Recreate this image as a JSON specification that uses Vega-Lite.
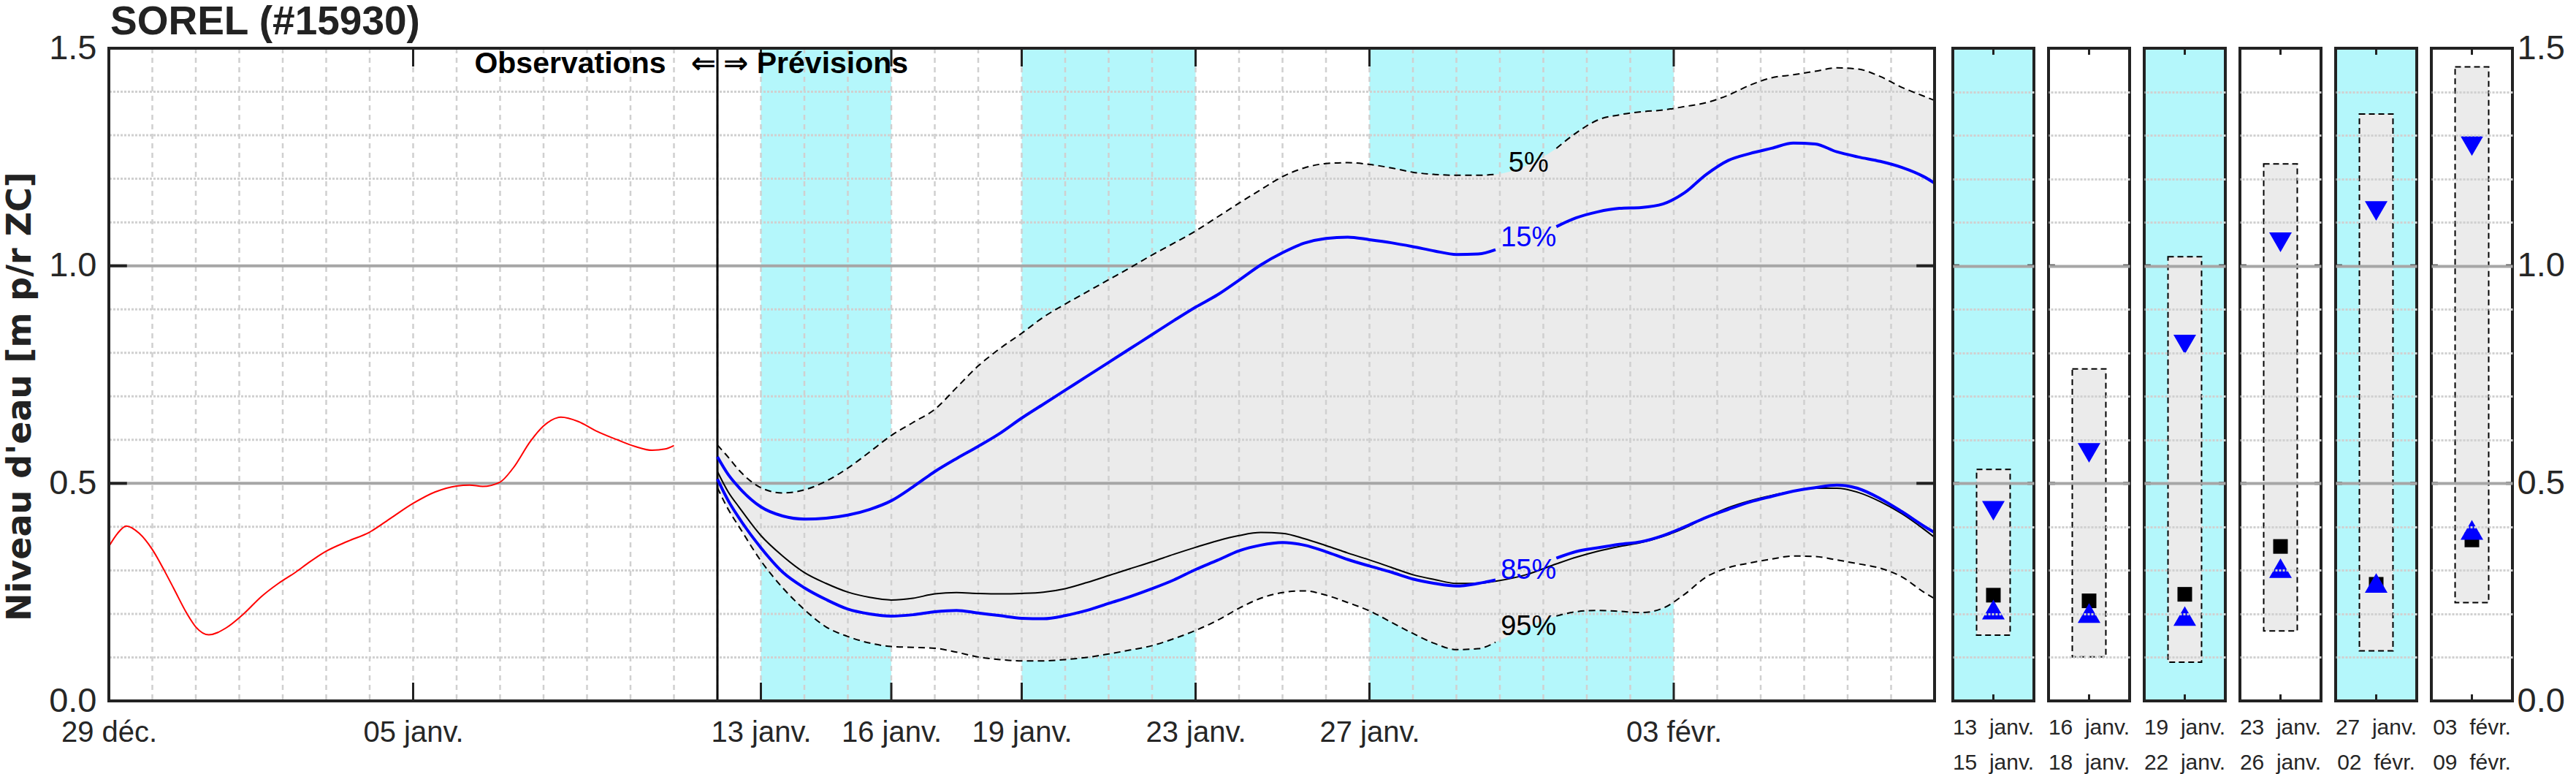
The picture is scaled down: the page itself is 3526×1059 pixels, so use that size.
{
"$schema": "https://vega.github.io/schema/vega-lite/v6.json",
"background": "white",
"padding": {"left": 4, "top": 2, "right": 6, "bottom": 4},
"title": {"text": "SOREL (#15930)", "anchor": "start", "frame": "group", "font": "Liberation Sans", "fontSize": 55, "fontWeight": "bold", "color": "#222222", "dx": 2, "offset": -16.5},
"config": {"view": {"stroke": null}, "font": "Liberation Sans"},
"datasets": {
"obs": [
{"t":"2024-12-29T00:00","v":0.355},{"t":"2024-12-29T04:48","v":0.385},{"t":"2024-12-29T09:36","v":0.402},{"t":"2024-12-29T16:48","v":0.385},
{"t":"2024-12-30T00:00","v":0.348},{"t":"2024-12-30T07:12","v":0.295},{"t":"2024-12-30T12:00","v":0.257},{"t":"2024-12-30T19:12","v":0.2},
{"t":"2024-12-31T00:00","v":0.17},{"t":"2024-12-31T07:12","v":0.152},{"t":"2024-12-31T16:48","v":0.168},{"t":"2025-01-01T02:24","v":0.2},
{"t":"2025-01-01T12:00","v":0.239},{"t":"2025-01-01T21:36","v":0.27},{"t":"2025-01-02T07:12","v":0.296},{"t":"2025-01-02T14:24","v":0.318},
{"t":"2025-01-03T00:00","v":0.344},{"t":"2025-01-03T12:00","v":0.367},{"t":"2025-01-04T00:00","v":0.388},{"t":"2025-01-04T12:00","v":0.421},
{"t":"2025-01-05T00:00","v":0.454},{"t":"2025-01-05T12:00","v":0.48},{"t":"2025-01-06T00:00","v":0.494},{"t":"2025-01-06T07:12","v":0.496},
{"t":"2025-01-06T14:24","v":0.493},{"t":"2025-01-07T00:00","v":0.503},{"t":"2025-01-07T07:12","v":0.535},{"t":"2025-01-07T16:48","v":0.597},
{"t":"2025-01-08T00:00","v":0.632},{"t":"2025-01-08T09:36","v":0.652},{"t":"2025-01-08T19:12","v":0.642},{"t":"2025-01-09T04:48","v":0.621},
{"t":"2025-01-09T16:48","v":0.6},{"t":"2025-01-10T02:24","v":0.585},{"t":"2025-01-10T12:00","v":0.576},{"t":"2025-01-10T19:12","v":0.579},
{"t":"2025-01-11T00:00","v":0.587}
],
"fc": [
{"t":"2025-01-12T00:00","p5":0.588,"p15":0.561,"p50":0.527,"p85":0.51,"p95":0.49,"seg":"a"},
{"t":"2025-01-12T06:00","p5":0.56,"p15":0.52,"p50":0.48,"p85":0.46,"p95":0.44,"seg":"a"},
{"t":"2025-01-12T12:00","p5":0.53,"p15":0.49,"p50":0.445,"p85":0.42,"p95":0.4,"seg":"a"},
{"t":"2025-01-13T00:00","p5":0.49,"p15":0.446,"p50":0.38,"p85":0.352,"p95":0.322,"seg":"a"},
{"t":"2025-01-13T12:00","p5":0.478,"p15":0.425,"p50":0.333,"p85":0.296,"p95":0.26,"seg":"a"},
{"t":"2025-01-14T00:00","p5":0.485,"p15":0.418,"p50":0.295,"p85":0.26,"p95":0.21,"seg":"a"},
{"t":"2025-01-14T12:00","p5":0.505,"p15":0.42,"p50":0.27,"p85":0.233,"p95":0.17,"seg":"a"},
{"t":"2025-01-15T00:00","p5":0.535,"p15":0.427,"p50":0.25,"p85":0.211,"p95":0.148,"seg":"a"},
{"t":"2025-01-15T12:00","p5":0.572,"p15":0.44,"p50":0.238,"p85":0.2,"p95":0.133,"seg":"a"},
{"t":"2025-01-16T00:00","p5":0.61,"p15":0.46,"p50":0.232,"p85":0.195,"p95":0.125,"seg":"a"},
{"t":"2025-01-16T12:00","p5":0.64,"p15":0.492,"p50":0.236,"p85":0.198,"p95":0.123,"seg":"a"},
{"t":"2025-01-17T00:00","p5":0.67,"p15":0.527,"p50":0.246,"p85":0.205,"p95":0.121,"seg":"a"},
{"t":"2025-01-17T12:00","p5":0.72,"p15":0.557,"p50":0.249,"p85":0.208,"p95":0.112,"seg":"a"},
{"t":"2025-01-18T00:00","p5":0.77,"p15":0.585,"p50":0.247,"p85":0.202,"p95":0.101,"seg":"a"},
{"t":"2025-01-18T12:00","p5":0.81,"p15":0.615,"p50":0.246,"p85":0.196,"p95":0.095,"seg":"a"},
{"t":"2025-01-19T00:00","p5":0.845,"p15":0.65,"p50":0.247,"p85":0.19,"p95":0.092,"seg":"a"},
{"t":"2025-01-19T12:00","p5":0.882,"p15":0.682,"p50":0.25,"p85":0.189,"p95":0.092,"seg":"a"},
{"t":"2025-01-20T00:00","p5":0.912,"p15":0.714,"p50":0.258,"p85":0.196,"p95":0.095,"seg":"a"},
{"t":"2025-01-20T12:00","p5":0.94,"p15":0.746,"p50":0.272,"p85":0.208,"p95":0.1,"seg":"a"},
{"t":"2025-01-21T00:00","p5":0.968,"p15":0.778,"p50":0.288,"p85":0.224,"p95":0.108,"seg":"a"},
{"t":"2025-01-21T12:00","p5":0.996,"p15":0.81,"p50":0.304,"p85":0.24,"p95":0.117,"seg":"a"},
{"t":"2025-01-22T00:00","p5":1.025,"p15":0.842,"p50":0.32,"p85":0.258,"p95":0.127,"seg":"a"},
{"t":"2025-01-22T12:00","p5":1.052,"p15":0.874,"p50":0.337,"p85":0.278,"p95":0.143,"seg":"a"},
{"t":"2025-01-23T00:00","p5":1.08,"p15":0.905,"p50":0.353,"p85":0.302,"p95":0.162,"seg":"a"},
{"t":"2025-01-23T12:00","p5":1.112,"p15":0.933,"p50":0.368,"p85":0.323,"p95":0.185,"seg":"a"},
{"t":"2025-01-24T00:00","p5":1.144,"p15":0.967,"p50":0.38,"p85":0.345,"p95":0.213,"seg":"a"},
{"t":"2025-01-24T12:00","p5":1.175,"p15":1.002,"p50":0.387,"p85":0.358,"p95":0.236,"seg":"a"},
{"t":"2025-01-25T00:00","p5":1.205,"p15":1.03,"p50":0.385,"p85":0.364,"p95":0.249,"seg":"a"},
{"t":"2025-01-25T12:00","p5":1.225,"p15":1.052,"p50":0.373,"p85":0.358,"p95":0.253,"seg":"a"},
{"t":"2025-01-26T00:00","p5":1.235,"p15":1.063,"p50":0.357,"p85":0.343,"p95":0.243,"seg":"a"},
{"t":"2025-01-26T12:00","p5":1.237,"p15":1.066,"p50":0.34,"p85":0.325,"p95":0.226,"seg":"a"},
{"t":"2025-01-27T00:00","p5":1.233,"p15":1.06,"p50":0.324,"p85":0.31,"p95":0.207,"seg":"a"},
{"t":"2025-01-27T12:00","p5":1.225,"p15":1.053,"p50":0.307,"p85":0.296,"p95":0.181,"seg":"a"},
{"t":"2025-01-28T00:00","p5":1.215,"p15":1.044,"p50":0.29,"p85":0.28,"p95":0.155,"seg":"a"},
{"t":"2025-01-28T12:00","p5":1.21,"p15":1.034,"p50":0.279,"p85":0.27,"p95":0.132,"seg":"a"},
{"t":"2025-01-29T00:00","p5":1.208,"p15":1.026,"p50":0.27,"p85":0.264,"p95":0.118,"seg":"a"},
{"t":"2025-01-29T12:00","p5":1.208,"p15":1.027,"p50":0.27,"p85":0.27,"p95":0.12,"seg":"a"},
{"t":"2025-01-29T21:36","p5":1.21,"p15":1.037,"p50":0.275,"p85":0.278,"p95":0.135,"seg":"a"},
{"t":"2025-01-30T14:24","p5":1.23,"p15":1.065,"p50":0.29,"p85":0.3,"p95":0.168,"seg":"gap"},
{"t":"2025-01-31T07:12","p5":1.27,"p15":1.09,"p50":0.315,"p85":0.328,"p95":0.195,"seg":"b"},
{"t":"2025-01-31T18:00","p5":1.305,"p15":1.11,"p50":0.33,"p85":0.343,"p95":0.205,"seg":"b"},
{"t":"2025-02-01T06:00","p5":1.335,"p15":1.124,"p50":0.344,"p85":0.352,"p95":0.208,"seg":"b"},
{"t":"2025-02-01T18:00","p5":1.347,"p15":1.132,"p50":0.355,"p85":0.36,"p95":0.206,"seg":"b"},
{"t":"2025-02-02T06:00","p5":1.354,"p15":1.134,"p50":0.364,"p85":0.366,"p95":0.203,"seg":"b"},
{"t":"2025-02-02T18:00","p5":1.358,"p15":1.142,"p50":0.378,"p85":0.38,"p95":0.213,"seg":"b"},
{"t":"2025-02-03T06:00","p5":1.366,"p15":1.168,"p50":0.397,"p85":0.4,"p95":0.245,"seg":"b"},
{"t":"2025-02-03T18:00","p5":1.375,"p15":1.21,"p50":0.422,"p85":0.422,"p95":0.285,"seg":"b"},
{"t":"2025-02-04T06:00","p5":1.392,"p15":1.242,"p50":0.444,"p85":0.44,"p95":0.306,"seg":"b"},
{"t":"2025-02-04T18:00","p5":1.415,"p15":1.258,"p50":0.46,"p85":0.457,"p95":0.317,"seg":"b"},
{"t":"2025-02-05T06:00","p5":1.432,"p15":1.27,"p50":0.472,"p85":0.47,"p95":0.326,"seg":"b"},
{"t":"2025-02-05T18:00","p5":1.439,"p15":1.282,"p50":0.482,"p85":0.482,"p95":0.333,"seg":"b"},
{"t":"2025-02-06T06:00","p5":1.447,"p15":1.28,"p50":0.489,"p85":0.49,"p95":0.332,"seg":"b"},
{"t":"2025-02-06T18:00","p5":1.455,"p15":1.262,"p50":0.489,"p85":0.496,"p95":0.324,"seg":"b"},
{"t":"2025-02-07T06:00","p5":1.452,"p15":1.25,"p50":0.479,"p85":0.488,"p95":0.315,"seg":"b"},
{"t":"2025-02-07T18:00","p5":1.435,"p15":1.24,"p50":0.458,"p85":0.465,"p95":0.305,"seg":"b"},
{"t":"2025-02-08T06:00","p5":1.41,"p15":1.226,"p50":0.43,"p85":0.435,"p95":0.285,"seg":"b"},
{"t":"2025-02-08T18:00","p5":1.39,"p15":1.205,"p50":0.395,"p85":0.402,"p95":0.25,"seg":"b"},
{"t":"2025-02-09T00:00","p5":1.38,"p15":1.19,"p50":0.376,"p85":0.387,"p95":0.235,"seg":"b"}
],
"bands": [
{"start":"2025-01-13T00:00","end":"2025-01-16T00:00"},
{"start":"2025-01-19T00:00","end":"2025-01-23T00:00"},
{"start":"2025-01-27T00:00","end":"2025-02-03T00:00"}
],
"vgrid": [
{"t":"2024-12-30T00:00"},{"t":"2024-12-31T00:00"},{"t":"2025-01-01T00:00"},{"t":"2025-01-02T00:00"},{"t":"2025-01-03T00:00"},{"t":"2025-01-04T00:00"},{"t":"2025-01-05T00:00"},{"t":"2025-01-06T00:00"},{"t":"2025-01-07T00:00"},{"t":"2025-01-08T00:00"},{"t":"2025-01-09T00:00"},{"t":"2025-01-10T00:00"},{"t":"2025-01-11T00:00"},{"t":"2025-01-12T00:00"},{"t":"2025-01-13T00:00"},{"t":"2025-01-14T00:00"},{"t":"2025-01-15T00:00"},{"t":"2025-01-16T00:00"},{"t":"2025-01-17T00:00"},{"t":"2025-01-18T00:00"},{"t":"2025-01-19T00:00"},{"t":"2025-01-20T00:00"},{"t":"2025-01-21T00:00"},{"t":"2025-01-22T00:00"},{"t":"2025-01-23T00:00"},{"t":"2025-01-24T00:00"},{"t":"2025-01-25T00:00"},{"t":"2025-01-26T00:00"},{"t":"2025-01-27T00:00"},{"t":"2025-01-28T00:00"},{"t":"2025-01-29T00:00"},{"t":"2025-01-30T00:00"},{"t":"2025-01-31T00:00"},{"t":"2025-02-01T00:00"},{"t":"2025-02-02T00:00"},{"t":"2025-02-03T00:00"},{"t":"2025-02-04T00:00"},{"t":"2025-02-05T00:00"},{"t":"2025-02-06T00:00"},{"t":"2025-02-07T00:00"},{"t":"2025-02-08T00:00"}
],
"hminor": [{"v":0.1},{"v":0.2},{"v":0.3},{"v":0.4},{"v":0.6},{"v":0.7},{"v":0.8},{"v":0.9},{"v":1.1},{"v":1.2},{"v":1.3},{"v":1.4}],
"hmajor": [{"v":0.5},{"v":1.0}],
"xticks": [{"t":"2025-01-05T00:00"},{"t":"2025-01-13T00:00"},{"t":"2025-01-16T00:00"},{"t":"2025-01-19T00:00"},{"t":"2025-01-23T00:00"},{"t":"2025-01-27T00:00"},{"t":"2025-02-03T00:00"}],
"pct": [
{"s":"p5","lab":"5%","t":"2025-01-30T15:50","v":1.235},
{"s":"p15","lab":"15%","t":"2025-01-30T15:50","v":1.063},
{"s":"p85","lab":"85%","t":"2025-01-30T15:50","v":0.299},
{"s":"p95","lab":"95%","t":"2025-01-30T15:50","v":0.17}
],
"panels": [
{"p":1,"shade":true,"lab":"13\u00a0\u00a0janv.|15\u00a0\u00a0janv.","lo":0.151,"hi":0.532,"q15":0.437,"q85":0.21,"med":0.243},
{"p":2,"shade":false,"lab":"16\u00a0\u00a0janv.|18\u00a0\u00a0janv.","lo":0.101,"hi":0.763,"q15":0.57,"q85":0.202,"med":0.23},
{"p":3,"shade":true,"lab":"19\u00a0\u00a0janv.|22\u00a0\u00a0janv.","lo":0.089,"hi":1.021,"q15":0.819,"q85":0.195,"med":0.245},
{"p":4,"shade":false,"lab":"23\u00a0\u00a0janv.|26\u00a0\u00a0janv.","lo":0.161,"hi":1.234,"q15":1.054,"q85":0.305,"med":0.355},
{"p":5,"shade":true,"lab":"27\u00a0\u00a0janv.|02\u00a0\u00a0févr.","lo":0.115,"hi":1.349,"q15":1.126,"q85":0.271,"med":0.268},
{"p":6,"shade":false,"lab":"03\u00a0\u00a0févr.|09\u00a0\u00a0févr.","lo":0.226,"hi":1.457,"q15":1.275,"q85":0.393,"med":0.37}
]
},
"hconcat": [
{
"width": 2499, "height": 893,
"layer": [
{"data": {"name": "bands"}, "mark": {"type": "rect", "color": "#b4f7fb"},
 "encoding": {
  "x": {"field": "start", "type": "temporal", "scale": {"domain": [{"year":2024,"month":12,"date":29},{"year":2025,"month":2,"date":9}], "nice": false},
   "axis": {"values": [{"year":2024,"month":12,"date":29},{"year":2025,"month":1,"date":5},{"year":2025,"month":1,"date":13},{"year":2025,"month":1,"date":16},{"year":2025,"month":1,"date":19},{"year":2025,"month":1,"date":23},{"year":2025,"month":1,"date":27},{"year":2025,"month":2,"date":3}],
    "labelExpr": "timeFormat(datum.value, '%d') + ' ' + (month(datum.value) == 11 ? 'déc.' : (month(datum.value) == 0 ? 'janv.' : 'févr.'))",
    "title": null, "grid": false, "ticks": false, "domain": false, "labelPadding": 23, "labelFontSize": 40, "labelFont": "Liberation Sans", "labelColor": "#262626", "labelOverlap": false, "labelFlush": false, "labelBound": false}},
  "x2": {"field": "end"},
  "y": {"datum": 0, "type": "quantitative", "scale": {"domain": [0, 1.5], "nice": false, "zero": false},
   "axis": {"values": [0, 0.5, 1, 1.5], "format": ".1f", "title": "Niveau d'eau [m p/r ZC]", "titleFont": "DejaVu Sans", "titleFontWeight": "bold", "titleFontSize": 46, "titleColor": "#222222", "titlePadding": 15, "titleY": 476, "grid": false, "ticks": false, "domain": false, "labelPadding": 17, "labelFontSize": 47, "labelFont": "Liberation Sans", "labelColor": "#262626"}},
  "y2": {"datum": 1.5}}},
{"data": {"name": "fc"}, "mark": {"type": "area", "color": "#ebebeb", "interpolate": "monotone"},
 "encoding": {"x": {"field": "t", "type": "temporal"}, "y": {"field": "p5", "type": "quantitative"}, "y2": {"field": "p95"}}},
{"data": {"name": "vgrid"}, "mark": {"type": "rule", "color": "#d0d0d0", "strokeWidth": 2.5, "strokeDash": [7, 6]},
 "encoding": {"x": {"field": "t", "type": "temporal"}}},
{"data": {"name": "hminor"}, "mark": {"type": "rule", "color": "#d0d0d0", "strokeWidth": 3, "strokeDash": [3, 2]},
 "encoding": {"y": {"field": "v", "type": "quantitative"}}},
{"data": {"name": "hmajor"}, "mark": {"type": "rule", "color": "#a6a6a6", "strokeWidth": 4},
 "encoding": {"y": {"field": "v", "type": "quantitative"}}},
{"data": {"values": [{}]}, "mark": {"type": "rule", "color": "#000000", "strokeWidth": 3},
 "encoding": {"x": {"datum": {"year":2025,"month":1,"date":12}, "type": "temporal"}}},
{"data": {"name": "obs"}, "mark": {"type": "line", "color": "#ff0000", "strokeWidth": 2, "interpolate": "monotone"},
 "encoding": {"x": {"field": "t", "type": "temporal"}, "y": {"field": "v", "type": "quantitative"}}},
{"data": {"name": "fc"}, "transform": [{"filter": "datum.seg != 'gap'"}], "mark": {"type": "line", "color": "#000000", "strokeWidth": 2, "strokeDash": [9, 6], "interpolate": "monotone"},
 "encoding": {"x": {"field": "t", "type": "temporal"}, "y": {"field": "p5", "type": "quantitative"}, "detail": {"field": "seg"}}},
{"data": {"name": "fc"}, "transform": [{"filter": "datum.seg != 'gap'"}], "mark": {"type": "line", "color": "#000000", "strokeWidth": 2, "strokeDash": [9, 6], "interpolate": "monotone"},
 "encoding": {"x": {"field": "t", "type": "temporal"}, "y": {"field": "p95", "type": "quantitative"}, "detail": {"field": "seg"}}},
{"data": {"name": "fc"}, "mark": {"type": "line", "color": "#000000", "strokeWidth": 2, "interpolate": "monotone"},
 "encoding": {"x": {"field": "t", "type": "temporal"}, "y": {"field": "p50", "type": "quantitative"}}},
{"data": {"name": "fc"}, "transform": [{"filter": "datum.seg != 'gap'"}], "mark": {"type": "line", "color": "#0000ff", "strokeWidth": 4, "interpolate": "monotone"},
 "encoding": {"x": {"field": "t", "type": "temporal"}, "y": {"field": "p15", "type": "quantitative"}, "detail": {"field": "seg"}}},
{"data": {"name": "fc"}, "transform": [{"filter": "datum.seg != 'gap'"}], "mark": {"type": "line", "color": "#0000ff", "strokeWidth": 4, "interpolate": "monotone"},
 "encoding": {"x": {"field": "t", "type": "temporal"}, "y": {"field": "p85", "type": "quantitative"}, "detail": {"field": "seg"}}},
{"data": {"name": "pct"}, "mark": {"type": "text", "align": "center", "baseline": "middle", "font": "Liberation Sans", "fontSize": 38},
 "encoding": {"x": {"field": "t", "type": "temporal"}, "y": {"field": "v", "type": "quantitative"}, "text": {"field": "lab"},
  "color": {"condition": {"test": "datum.s == 'p15' || datum.s == 'p85'", "value": "#0000ff"}, "value": "#000000"}}},
{"data": {"name": "xticks"}, "mark": {"type": "rule", "color": "#222222", "strokeWidth": 3},
 "encoding": {"x": {"field": "t", "type": "temporal"}, "y": {"datum": 0, "type": "quantitative"}, "y2": {"datum": 0.042}}},
{"data": {"name": "xticks"}, "mark": {"type": "rule", "color": "#222222", "strokeWidth": 3},
 "encoding": {"x": {"field": "t", "type": "temporal"}, "y": {"datum": 1.5, "type": "quantitative"}, "y2": {"datum": 1.458}}},
{"data": {"name": "hmajor"}, "mark": {"type": "rule", "color": "#222222", "strokeWidth": 4},
 "encoding": {"y": {"field": "v", "type": "quantitative"}, "x": {"datum": {"year":2024,"month":12,"date":29}, "type": "temporal"}, "x2": {"datum": {"year":2024,"month":12,"date":29,"hours":10}}}},
{"data": {"name": "hmajor"}, "mark": {"type": "rule", "color": "#222222", "strokeWidth": 4},
 "encoding": {"y": {"field": "v", "type": "quantitative"}, "x": {"datum": {"year":2025,"month":2,"date":8,"hours":14}, "type": "temporal"}, "x2": {"datum": {"year":2025,"month":2,"date":9}}}},
{"data": {"values": [{}]}, "mark": {"type": "text", "text": "Observations\u00a0\u00a0\u00a0⇐", "align": "right", "baseline": "alphabetic", "dx": -2, "font": "Liberation Sans, DejaVu Sans", "fontSize": 41, "fontWeight": "bold", "color": "#000000"},
 "encoding": {"x": {"datum": {"year":2025,"month":1,"date":12}, "type": "temporal"}, "y": {"datum": 1.443, "type": "quantitative"}}},
{"data": {"values": [{}]}, "mark": {"type": "text", "text": "⇒ Prévisions", "align": "left", "baseline": "alphabetic", "dx": 8, "font": "Liberation Sans, DejaVu Sans", "fontSize": 41, "fontWeight": "bold", "color": "#000000"},
 "encoding": {"x": {"datum": {"year":2025,"month":1,"date":12}, "type": "temporal"}, "y": {"datum": 1.443, "type": "quantitative"}}},
{"data": {"values": [{}]}, "mark": {"type": "rect", "filled": false, "stroke": "#222222", "strokeWidth": 4},
 "encoding": {"x": {"datum": {"year":2024,"month":12,"date":29}, "type": "temporal"}, "x2": {"datum": {"year":2025,"month":2,"date":9}}, "y": {"datum": 0, "type": "quantitative"}, "y2": {"datum": 1.5}}}
]
},
{
"data": {"name": "panels"},
"facet": {"column": {"field": "p", "type": "ordinal", "header": {"title": null, "labels": false}}},
"spacing": 16,
"spec": {
 "width": 111, "height": 893,
 "layer": [
  {"mark": {"type": "rect"},
   "encoding": {
    "x": {"datum": 0, "type": "quantitative", "scale": {"domain": [0, 1], "nice": false, "zero": false}, "axis": null},
    "x2": {"datum": 1},
    "y": {"datum": 0, "type": "quantitative", "scale": {"domain": [0, 1.5], "nice": false, "zero": false},
     "axis": {"orient": "right", "values": [0, 0.1, 0.2, 0.3, 0.4, 0.5, 0.6, 0.7, 0.8, 0.9, 1, 1.1, 1.2, 1.3, 1.4, 1.5],
      "labelExpr": "(datum.value * 10) % 5 == 0 ? format(datum.value, '.1f') : ''",
      "title": null, "ticks": false, "domain": false, "labelPadding": 4, "labelFontSize": 47, "labelFont": "Liberation Sans", "labelColor": "#262626",
      "grid": true, "zindex": 1,
      "gridColor": {"condition": {"test": "datum.value == 0.5 || datum.value == 1", "value": "#a6a6a6"}, "value": "#d0d0d0"},
      "gridDash": {"condition": {"test": "datum.value == 0.5 || datum.value == 1", "value": []}, "value": [3, 2]},
      "gridWidth": {"condition": {"test": "datum.value == 0.5 || datum.value == 1", "value": 4}, "value": 3},
      "gridOpacity": {"condition": {"test": "datum.value == 0 || datum.value == 1.5", "value": 0}, "value": 1}}},
    "y2": {"datum": 1.5},
    "fill": {"condition": {"test": "datum.shade", "value": "#b4f7fb"}, "value": "#ffffff"}}},
  {"mark": {"type": "rect", "fill": "#ebebeb", "stroke": "#000000", "strokeWidth": 2, "strokeDash": [8, 5]},
   "encoding": {"x": {"datum": 0.293, "type": "quantitative"}, "x2": {"datum": 0.707}, "y": {"field": "lo", "type": "quantitative"}, "y2": {"field": "hi"}}},
  {"mark": {"type": "rule", "color": "#222222", "strokeWidth": 3},
   "encoding": {"x": {"datum": 0.5, "type": "quantitative"}, "y": {"datum": 0, "type": "quantitative"}, "y2": {"datum": 0.015}}},
  {"mark": {"type": "rule", "color": "#222222", "strokeWidth": 3},
   "encoding": {"x": {"datum": 0.5, "type": "quantitative"}, "y": {"datum": 1.5, "type": "quantitative"}, "y2": {"datum": 1.485}}},
  {"mark": {"type": "rule", "color": "#222222", "strokeWidth": 4},
   "encoding": {"x": {"datum": 0, "type": "quantitative"}, "x2": {"datum": 0.08}, "y": {"datum": 0.5, "type": "quantitative"}}},
  {"mark": {"type": "rule", "color": "#222222", "strokeWidth": 4},
   "encoding": {"x": {"datum": 0, "type": "quantitative"}, "x2": {"datum": 0.08}, "y": {"datum": 1, "type": "quantitative"}}},
  {"mark": {"type": "rule", "color": "#222222", "strokeWidth": 4},
   "encoding": {"x": {"datum": 0.92, "type": "quantitative"}, "x2": {"datum": 1}, "y": {"datum": 0.5, "type": "quantitative"}}},
  {"mark": {"type": "rule", "color": "#222222", "strokeWidth": 4},
   "encoding": {"x": {"datum": 0.92, "type": "quantitative"}, "x2": {"datum": 1}, "y": {"datum": 1, "type": "quantitative"}}},
  {"mark": {"type": "point", "shape": "square", "size": 400, "filled": true, "color": "#000000", "opacity": 1},
   "encoding": {"x": {"datum": 0.5, "type": "quantitative"}, "y": {"field": "med", "type": "quantitative"}}},
  {"mark": {"type": "point", "shape": "M-1,-0.866L1,-0.866L0,0.866Z", "size": 960, "filled": true, "color": "#0000ff", "opacity": 1},
   "encoding": {"x": {"datum": 0.5, "type": "quantitative"}, "y": {"field": "q15", "type": "quantitative"}}},
  {"mark": {"type": "point", "shape": "M-1,0.866L1,0.866L0,-0.866Z", "size": 960, "filled": true, "color": "#0000ff", "opacity": 1},
   "encoding": {"x": {"datum": 0.5, "type": "quantitative"}, "y": {"field": "q85", "type": "quantitative"}}},
  {"mark": {"type": "text", "align": "center", "baseline": "top", "dy": 22, "lineBreak": "|", "lineHeight": 48, "font": "Liberation Sans", "fontSize": 30, "color": "#262626"},
   "encoding": {"x": {"datum": 0.5, "type": "quantitative"}, "y": {"datum": 0, "type": "quantitative"}, "text": {"field": "lab"}}},
  {"mark": {"type": "rect", "filled": false, "stroke": "#222222", "strokeWidth": 4},
   "encoding": {"x": {"datum": 0, "type": "quantitative"}, "x2": {"datum": 1}, "y": {"datum": 0, "type": "quantitative"}, "y2": {"datum": 1.5}}}
 ]
}
}
],
"spacing": 15
}
